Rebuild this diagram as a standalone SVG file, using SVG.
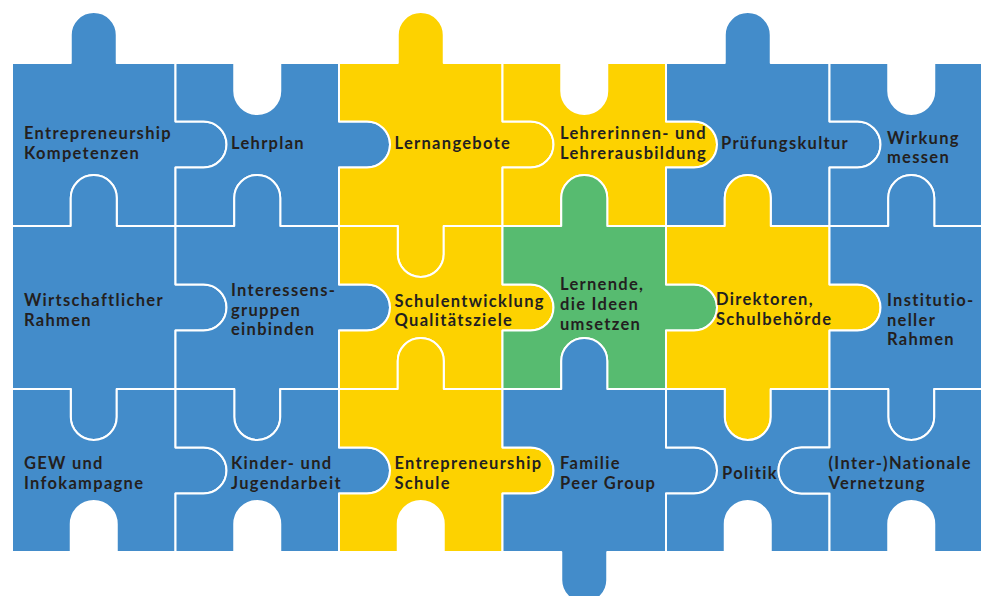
<svg xmlns="http://www.w3.org/2000/svg" width="981" height="596" viewBox="0 0 981 596">
<style>
.p{stroke:#fff;stroke-width:2;stroke-linejoin:round}
.b{fill:#438CCA}
.y{fill:#FDD200}
.g{fill:#57BB70}
text{font-family:Lato,"Liberation Sans",sans-serif;font-weight:700;font-size:16.5px;letter-spacing:1.3px;fill:#231F20}
</style>
<rect width="981" height="596" fill="#fff"/>
<g id="pieces">
<g id="p00"><path class="p b" d="M12,63 H70.75 v-28 a23,23 0 0 1 46,0 v28 H175.5 V121.5 h28 a23,23 0 0 1 0,46 h-28 V226 H116.75 v-28 a23,23 0 0 0 -46,0 v28 H12 Z"/><text x="24" y="138.5">Entrepreneurship</text><text x="24" y="158.5">Kompetenzen</text></g>
<g id="p10"><path class="p b" d="M175.5,63 H234.25 v28 a23,23 0 0 0 46,0 v-28 H339 V121.5 h28 a23,23 0 0 1 0,46 h-28 V226 H280.25 v-28 a23,23 0 0 0 -46,0 v28 H175.5 V167.5 h28 a23,23 0 0 0 0,-46 h-28 Z"/><text x="231" y="148.5">Lehrplan</text></g>
<g id="p20"><path class="p y" d="M339,63 H397.75 v-28 a23,23 0 0 1 46,0 v28 H502.5 V121.5 h28 a23,23 0 0 1 0,46 h-28 V226 H443.75 v28 a23,23 0 0 1 -46,0 v-28 H339 V167.5 h28 a23,23 0 0 0 0,-46 h-28 Z"/><text x="394.5" y="148.5">Lernangebote</text></g>
<g id="p30"><path class="p y" d="M502.5,63 H561.25 v28 a23,23 0 0 0 46,0 v-28 H666 V121.5 h28 a23,23 0 0 1 0,46 h-28 V226 H607.25 v-28 a23,23 0 0 0 -46,0 v28 H502.5 V167.5 h28 a23,23 0 0 0 0,-46 h-28 Z"/><text x="560" y="138.5">Lehrerinnen- und</text><text x="560" y="158.5">Lehrerausbildung</text></g>
<g id="p40"><path class="p b" d="M666,63 H724.75 v-28 a23,23 0 0 1 46,0 v28 H829.5 V121.5 h28 a23,23 0 0 1 0,46 h-28 V226 H770.75 v-28 a23,23 0 0 0 -46,0 v28 H666 V167.5 h28 a23,23 0 0 0 0,-46 h-28 Z"/><text x="721" y="148.5">Prüfungskultur</text></g>
<g id="p50"><path class="p b" d="M829.5,63 H888.25 v28 a23,23 0 0 0 46,0 v-28 H993 V226 H934.25 v-28 a23,23 0 0 0 -46,0 v28 H829.5 V167.5 h28 a23,23 0 0 0 0,-46 h-28 Z"/><text x="887" y="143.5">Wirkung</text><text x="887" y="163">messen</text></g>
<g id="p01"><path class="p b" d="M12,226 H70.75 v-28 a23,23 0 0 1 46,0 v28 H175.5 V284.5 h28 a23,23 0 0 1 0,46 h-28 V389 H116.75 v28 a23,23 0 0 1 -46,0 v-28 H12 Z"/><text x="24" y="306">Wirtschaftlicher</text><text x="24" y="325.5">Rahmen</text></g>
<g id="p11"><path class="p b" d="M175.5,226 H234.25 v-28 a23,23 0 0 1 46,0 v28 H339 V284.5 h28 a23,23 0 0 1 0,46 h-28 V389 H280.25 v28 a23,23 0 0 1 -46,0 v-28 H175.5 V330.5 h28 a23,23 0 0 0 0,-46 h-28 Z"/><text x="231" y="296">Interessens-</text><text x="231" y="315.5">gruppen</text><text x="231" y="335">einbinden</text></g>
<g id="p21"><path class="p y" d="M339,226 H397.75 v28 a23,23 0 0 0 46,0 v-28 H502.5 V284.5 h28 a23,23 0 0 1 0,46 h-28 V389 H443.75 v-28 a23,23 0 0 0 -46,0 v28 H339 V330.5 h28 a23,23 0 0 0 0,-46 h-28 Z"/><text x="394.5" y="306.5">Schulentwicklung</text><text x="394.5" y="325.5">Qualitätsziele</text></g>
<g id="p31"><path class="p g" d="M502.5,226 H561.25 v-28 a23,23 0 0 1 46,0 v28 H666 V284.5 h28 a23,23 0 0 1 0,46 h-28 V389 H607.25 v-28 a23,23 0 0 0 -46,0 v28 H502.5 V330.5 h28 a23,23 0 0 0 0,-46 h-28 Z"/><text x="560" y="290">Lernende,</text><text x="560" y="310">die Ideen</text><text x="560" y="329.5">umsetzen</text></g>
<g id="p41"><path class="p y" d="M666,226 H724.75 v-28 a23,23 0 0 1 46,0 v28 H829.5 V284.5 h28 a23,23 0 0 1 0,46 h-28 V389 H770.75 v28 a23,23 0 0 1 -46,0 v-28 H666 V330.5 h28 a23,23 0 0 0 0,-46 h-28 Z"/><text x="716" y="305">Direktoren,</text><text x="716" y="324.5">Schulbehörde</text></g>
<g id="p51"><path class="p b" d="M829.5,226 H888.25 v-28 a23,23 0 0 1 46,0 v28 H993 V389 H934.25 v28 a23,23 0 0 1 -46,0 v-28 H829.5 V330.5 h28 a23,23 0 0 0 0,-46 h-28 Z"/><text x="887" y="306">Institutio-</text><text x="887" y="325.5">neller</text><text x="887" y="344.5">Rahmen</text></g>
<g id="p02"><path class="p b" d="M12,389 H70.75 v28 a23,23 0 0 0 46,0 v-28 H175.5 V447.5 h28 a23,23 0 0 1 0,46 h-28 V552 H116.75 v-28 a23,23 0 0 0 -46,0 v28 H12 Z"/><text x="24" y="468.5">GEW und</text><text x="24" y="488.5">Infokampagne</text></g>
<g id="p12"><path class="p b" d="M175.5,389 H234.25 v28 a23,23 0 0 0 46,0 v-28 H339 V447.5 h28 a23,23 0 0 1 0,46 h-28 V552 H280.25 v-28 a23,23 0 0 0 -46,0 v28 H175.5 V493.5 h28 a23,23 0 0 0 0,-46 h-28 Z"/><text x="231" y="468.5">Kinder- und</text><text x="231" y="488.5">Jugendarbeit</text></g>
<g id="p22"><path class="p y" d="M339,389 H397.75 v-28 a23,23 0 0 1 46,0 v28 H502.5 V447.5 h28 a23,23 0 0 1 0,46 h-28 V552 H443.75 v-28 a23,23 0 0 0 -46,0 v28 H339 V493.5 h28 a23,23 0 0 0 0,-46 h-28 Z"/><text x="394.5" y="468.5">Entrepreneurship</text><text x="394.5" y="488.5">Schule</text></g>
<g id="p32"><path class="p b" d="M502.5,389 H561.25 v-28 a23,23 0 0 1 46,0 v28 H666 V447.5 h28 a23,23 0 0 1 0,46 h-28 V552 H607.25 v28 a23,23 0 0 1 -46,0 v-28 H502.5 V493.5 h28 a23,23 0 0 0 0,-46 h-28 Z"/><text x="560" y="468.5">Familie</text><text x="560" y="488.5">Peer Group</text></g>
<g id="p42"><path class="p b" d="M666,389 H724.75 v28 a23,23 0 0 0 46,0 v-28 H829.5 V447.5 h-28 a23,23 0 0 0 0,46 h28 V552 H770.75 v-28 a23,23 0 0 0 -46,0 v28 H666 V493.5 h28 a23,23 0 0 0 0,-46 h-28 Z"/><text x="722" y="478.5">Politik</text></g>
<g id="p52"><path class="p b" d="M829.5,389 H888.25 v28 a23,23 0 0 0 46,0 v-28 H993 V552 H934.25 v-28 a23,23 0 0 0 -46,0 v28 H829.5 V493.5 h-28 a23,23 0 0 1 0,-46 h28 Z"/><text x="828.5" y="468.5">(Inter-)Nationale</text><text x="828.5" y="488.5">Vernetzung</text></g>
</g>
<g id="connectors"/>
</svg>
